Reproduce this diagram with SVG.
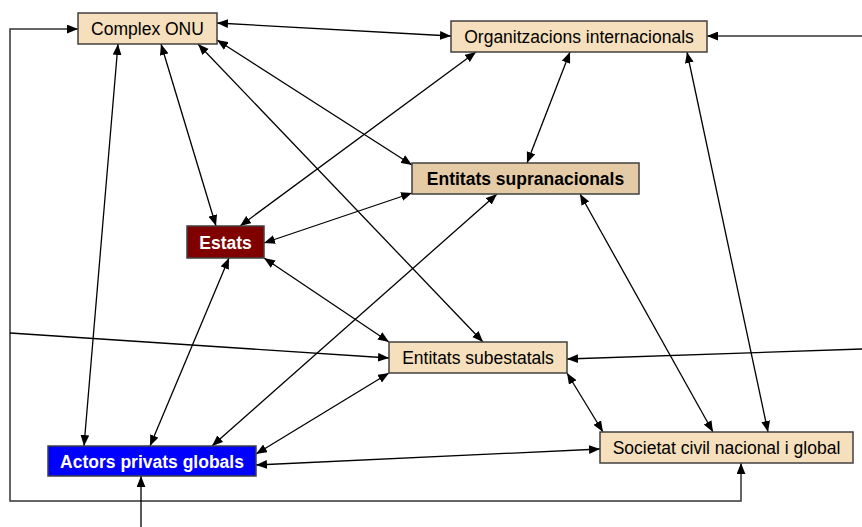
<svg xmlns="http://www.w3.org/2000/svg" width="862" height="527" viewBox="0 0 862 527">
<style>
.box{stroke:#404040;stroke-width:1.5}
.lt{fill:#F5DFBC}
.dk{fill:#E4CBA6}
.t{font-family:"Liberation Sans",Arial,sans-serif;font-size:17.5px;text-anchor:middle;fill:#000}
.b{font-weight:bold}
.w{fill:#fff}
.c line,.c path{stroke:#000;stroke-width:1.3;fill:none}
.c .bi{marker-start:url(#ah);marker-end:url(#ah)}
.c .one{marker-end:url(#ah)}
</style>
<defs>
<marker id="ah" viewBox="0 0 10 8" refX="10" refY="4" markerWidth="11" markerHeight="9" markerUnits="userSpaceOnUse" orient="auto-start-reverse">
<path d="M0,0 L10,4 L0,8 z" fill="#000"/>
</marker>
</defs>
<rect width="862" height="527" fill="#fff"/>
<g id="connectors" class="c">
<path class="bi" d="M78,29 H10 V501 H741 V463" style="stroke:#333;stroke-width:1.5"/>
<line class="one" x1="862" y1="36" x2="707" y2="36" style="stroke:#333;stroke-width:1.5"/>
<line class="one" x1="10" y1="333" x2="389" y2="358"/>
<line class="one" x1="862" y1="349" x2="567" y2="359"/>
<line class="one" x1="141" y1="527" x2="141" y2="476"/>
<line class="bi" x1="256" y1="465" x2="600" y2="449"/>
<line class="bi" x1="217" y1="23" x2="451" y2="36"/>
<line class="bi" x1="217" y1="40" x2="412" y2="165"/>
<line class="bi" x1="198" y1="44" x2="483" y2="342"/>
<line class="bi" x1="161" y1="44" x2="216" y2="226"/>
<line class="bi" x1="118" y1="44" x2="84" y2="446"/>
<line class="bi" x1="476" y1="52" x2="240" y2="226"/>
<line class="bi" x1="570" y1="52" x2="527" y2="163"/>
<line class="bi" x1="687" y1="52" x2="768" y2="432"/>
<line class="bi" x1="412" y1="193" x2="264" y2="243"/>
<line class="bi" x1="497" y1="194" x2="212" y2="446"/>
<line class="bi" x1="580" y1="194" x2="713" y2="432"/>
<line class="bi" x1="229" y1="258" x2="150" y2="446"/>
<line class="bi" x1="264" y1="258" x2="389" y2="342"/>
<line class="bi" x1="389" y1="373" x2="256" y2="454"/>
<line class="bi" x1="567" y1="373" x2="603" y2="432"/>
</g>
<g id="complex-onu">
<rect class="box lt" x="78" y="13" width="139" height="31"/>
<text class="t" x="147.5" y="35">Complex ONU</text>
</g>
<g id="organitzacions">
<rect class="box lt" x="451" y="21" width="256" height="31"/>
<text class="t" x="579" y="43">Organitzacions internacionals</text>
</g>
<g id="supranacionals">
<rect class="box dk" x="412" y="163" width="227" height="31"/>
<text class="t b" x="525.5" y="185">Entitats supranacionals</text>
</g>
<g id="estats">
<rect class="box" x="187" y="226" width="77" height="32" fill="#800000"/>
<text class="t b w" x="225.5" y="248.5">Estats</text>
</g>
<g id="subestatals">
<rect class="box lt" x="389" y="342" width="178" height="31"/>
<text class="t" x="478" y="364">Entitats subestatals</text>
</g>
<g id="actors">
<rect class="box" x="48" y="446" width="208" height="30" fill="#0000FF"/>
<text class="t b w" x="152" y="467.5">Actors privats globals</text>
</g>
<g id="societat">
<rect class="box lt" x="600" y="432" width="253" height="31"/>
<text class="t" x="726.5" y="454">Societat civil nacional i global</text>
</g>
</svg>
